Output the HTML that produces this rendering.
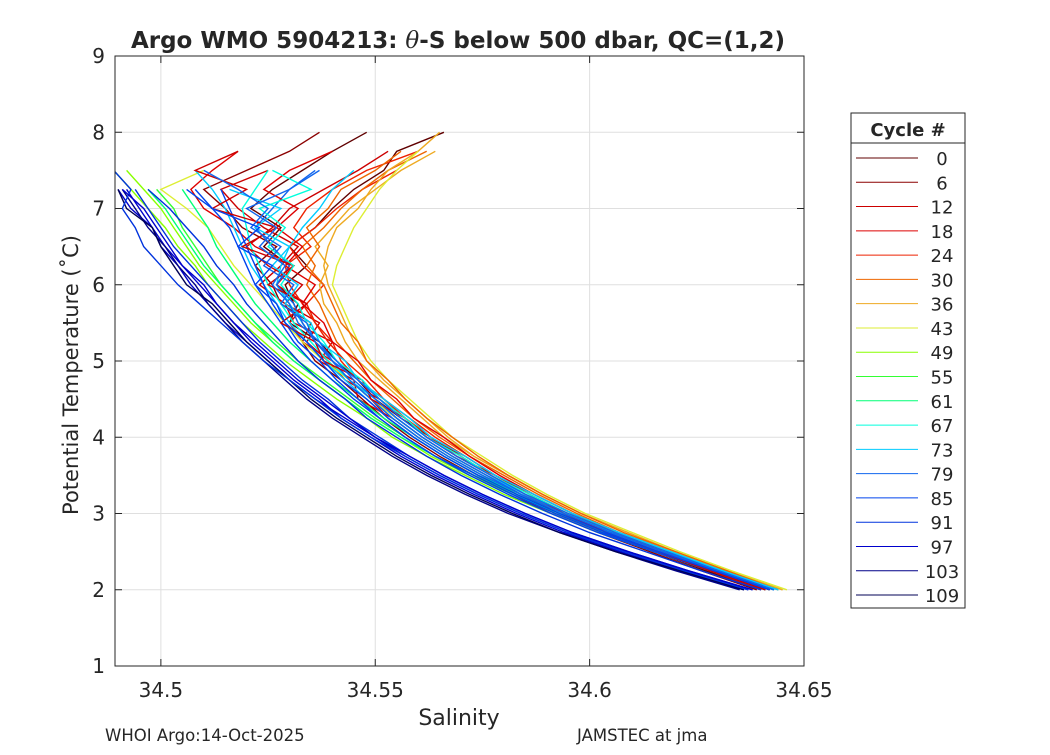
<!DOCTYPE html>
<html><head><meta charset="utf-8"><style>
body{margin:0;background:#fff;}
svg text{font-family:"DejaVu Sans","Liberation Sans",sans-serif;fill:#262626;}
</style></head><body>
<svg id="chart" width="1050" height="750" xmlns="http://www.w3.org/2000/svg">
<rect width="1050" height="750" fill="#fff"/>
<g id="grid"></g>
<g id="plot"></g>
<rect x="115" y="56" width="689" height="610" fill="none" stroke="#262626" stroke-width="1"/>
<g id="ticks"></g>
<text x="458" y="48" text-anchor="middle" font-size="23" font-weight="bold" fill="#000">Argo WMO 5904213: <tspan font-style="italic" font-weight="normal" font-family="DejaVu Serif,serif">θ</tspan>-S below 500 dbar,  QC=(1,2)</text>
<text x="459" y="725" text-anchor="middle" font-size="22">Salinity</text>
<text transform="translate(78,375) rotate(-90)" text-anchor="middle" font-size="21">Potential Temperature (˚C)</text>
<text x="105" y="741" font-size="16.5" fill="#000">WHOI Argo:14-Oct-2025</text>
<text x="577" y="741" font-size="16.5" fill="#000">JAMSTEC at jma</text>
<g id="legend">
<rect x="851" y="113" width="114" height="495" fill="#fff" stroke="#262626" stroke-width="1"/>
<line x1="851" y1="143" x2="965" y2="143" stroke="#262626"/>
<text x="908" y="136" text-anchor="middle" font-size="18" font-weight="bold" fill="#000">Cycle #</text>
</g>
</svg>
<script>
const legendCycles=[0,6,12,18,24,30,36,43,49,55,61,67,73,79,85,91,97,103,109];
const legendColors=["#600000","#8b0000","#cc0000","#dd0000","#ee2200","#ee6600","#eeaa22","#ddee33","#88ff00","#33ff33","#00ff77","#00ffdd","#00ccff","#1166ee","#0044ee","#0033dd","#0000cc","#000088","#000055"];
const xTicks=[34.5,34.55,34.6,34.65];
const xTickLabels=["34.5","34.55","34.6","34.65"];
const yTicks=[1,2,3,4,5,6,7,8,9];
const tLevels=[2,2.25,2.5,2.75,3,3.25,3.5,3.75,4,4.25,4.5,4.75,5,5.25,5.5,5.75,6,6.25,6.5,6.75,7,7.25,7.5,7.75,8];
const profCycles=[0,3,8,12,16,20,24,28,32,36,40,43,46,50,54,58,62,66,70,74,78,82,86,90,94,98,102,106,109,14,22,34,72,76,80,84,88,92,96,100];
const profSal=[
[34.640,34.627,34.615,34.603,34.593,34.584,34.576,34.568,34.561,34.555,34.549,34.544,34.540,34.536,34.533,34.531,34.529,34.534,34.530,34.536,34.540,34.545,34.552,34.555,34.566],
[34.641,34.629,34.617,34.605,34.594,34.585,34.577,34.570,34.563,34.556,34.550,34.546,34.541,34.537,34.530,34.532,34.527,34.530,34.524,34.528,34.521,34.526,34.533,34.540,34.548],
[34.639,34.626,34.614,34.602,34.591,34.582,34.573,34.565,34.558,34.552,34.547,34.542,34.536,34.533,34.535,34.528,34.526,34.522,34.527,34.519,34.515,34.510,34.520,34.530,34.537],
[34.640,34.628,34.616,34.604,34.593,34.583,34.575,34.567,34.560,34.554,34.546,34.545,34.537,34.540,34.531,34.529,34.533,34.525,34.520,34.526,34.530,34.538,34.546,34.553,null],
[34.642,34.630,34.618,34.606,34.595,34.586,34.578,34.569,34.562,34.557,34.551,34.543,34.539,34.534,34.537,34.529,34.523,34.528,34.532,34.524,34.518,34.514,34.525,null,null],
[34.641,34.628,34.615,34.603,34.592,34.583,34.574,34.566,34.559,34.553,34.549,34.544,34.540,34.533,34.530,34.534,34.527,34.531,34.522,34.517,34.510,34.507,34.512,34.518,null],
[34.643,34.631,34.619,34.607,34.596,34.587,34.578,34.571,34.564,34.558,34.552,34.548,34.543,34.539,34.536,34.534,34.538,34.533,34.530,34.536,34.541,34.547,34.555,null,null],
[34.642,34.629,34.617,34.605,34.594,34.585,34.577,34.569,34.563,34.557,34.552,34.546,34.542,34.540,34.536,34.533,34.530,34.529,34.535,34.531,34.534,34.540,34.548,34.560,null],
[34.644,34.631,34.619,34.607,34.597,34.588,34.580,34.572,34.565,34.559,34.554,34.549,34.545,34.541,34.539,34.537,34.534,34.536,34.533,34.538,34.542,34.547,34.553,34.562,null],
[34.645,34.632,34.620,34.609,34.598,34.589,34.581,34.573,34.566,34.561,34.556,34.551,34.546,34.543,34.541,34.538,34.537,34.539,34.536,34.540,34.544,34.550,34.556,34.564,null],
[34.645,34.632,34.620,34.609,34.598,34.589,34.581,34.573,34.567,34.562,34.557,34.552,34.548,34.545,34.543,34.541,34.539,34.538,34.539,34.541,34.546,34.549,34.553,34.560,34.565],
[34.646,34.633,34.621,34.610,34.599,34.590,34.582,34.575,34.568,34.563,34.558,34.553,34.549,34.546,34.544,34.542,34.540,34.541,34.543,34.545,34.548,34.551,34.555,34.560,null],
[34.644,34.631,34.619,34.606,34.595,34.585,34.576,34.568,34.561,34.555,34.549,34.544,34.538,34.533,34.529,34.525,34.521,34.517,34.514,34.511,34.506,34.500,34.510,null,null],
[34.642,34.629,34.616,34.603,34.592,34.582,34.572,34.563,34.556,34.549,34.543,34.537,34.531,34.526,34.521,34.517,34.513,34.509,34.506,34.503,34.500,34.496,34.492,null,null],
[34.641,34.628,34.615,34.602,34.591,34.580,34.571,34.562,34.554,34.548,34.541,34.535,34.529,34.524,34.519,34.515,34.511,34.508,34.504,34.501,34.497,34.493,34.489,null,null],
[34.642,34.629,34.616,34.604,34.593,34.583,34.573,34.564,34.557,34.550,34.544,34.538,34.532,34.527,34.522,34.518,34.514,34.511,34.508,34.505,34.503,34.499,null,null,null],
[34.643,34.630,34.617,34.604,34.593,34.582,34.573,34.564,34.556,34.549,34.543,34.537,34.531,34.526,34.522,34.518,34.514,34.510,34.507,34.504,34.501,34.497,null,null,null],
[34.643,34.630,34.618,34.605,34.594,34.584,34.574,34.566,34.559,34.552,34.546,34.540,34.535,34.530,34.526,34.522,34.519,34.516,34.513,34.511,34.508,34.505,null,null,null],
[34.644,34.631,34.618,34.605,34.594,34.584,34.575,34.567,34.560,34.554,34.549,34.544,34.539,34.535,34.531,34.528,34.525,34.523,34.521,34.520,34.519,34.522,34.525,null,null],
[34.644,34.631,34.618,34.606,34.595,34.585,34.576,34.568,34.561,34.555,34.550,34.544,34.540,34.536,34.533,34.530,34.527,34.528,34.530,34.533,34.537,34.540,34.545,null,null],
[34.643,34.630,34.617,34.604,34.593,34.583,34.574,34.566,34.559,34.553,34.548,34.543,34.538,34.534,34.530,34.527,34.524,34.521,34.519,34.517,34.515,34.512,34.508,null,null],
[34.643,34.630,34.618,34.605,34.594,34.584,34.575,34.567,34.560,34.554,34.549,34.544,34.540,34.536,34.533,34.531,34.527,34.530,34.526,34.522,34.526,34.530,34.536,null,null],
[34.642,34.629,34.616,34.603,34.592,34.582,34.573,34.564,34.557,34.551,34.545,34.540,34.535,34.531,34.528,34.525,34.522,34.520,34.518,34.516,34.512,34.508,null,null,null],
[34.641,34.628,34.615,34.602,34.591,34.581,34.572,34.564,34.557,34.551,34.546,34.541,34.537,34.532,34.529,34.526,34.524,34.522,34.520,34.518,34.516,34.514,null,null,null],
[34.638,34.623,34.609,34.596,34.585,34.575,34.566,34.558,34.551,34.544,34.539,34.533,34.528,34.523,34.519,34.515,34.511,34.507,34.503,34.500,34.497,34.494,null,null,null],
[34.636,34.621,34.607,34.594,34.583,34.573,34.564,34.556,34.549,34.542,34.537,34.531,34.526,34.521,34.517,34.513,34.509,34.505,34.501,34.498,34.495,34.492,null,null,null],
[34.637,34.622,34.608,34.595,34.584,34.574,34.565,34.557,34.550,34.543,34.536,34.530,34.525,34.520,34.515,34.511,34.507,34.504,34.500,34.498,34.493,34.490,null,null,null],
[34.635,34.620,34.606,34.593,34.581,34.571,34.562,34.554,34.547,34.540,34.534,34.529,34.524,34.519,34.515,34.511,34.508,34.504,34.501,34.497,34.494,34.491,null,null,null],
[34.636,34.621,34.606,34.593,34.582,34.572,34.563,34.555,34.548,34.541,34.535,34.530,34.525,34.520,34.516,34.512,34.506,34.503,34.500,34.498,34.492,34.490,null,null,null],
[34.641,34.628,34.616,34.604,34.594,34.586,34.578,34.571,34.562,34.557,34.549,34.547,34.538,34.536,34.528,34.534,34.525,34.531,34.519,34.527,34.512,34.520,34.508,34.518,null],
[34.642,34.630,34.617,34.606,34.596,34.587,34.579,34.572,34.566,34.559,34.555,34.549,34.546,34.540,34.538,34.533,34.536,34.529,34.533,34.527,34.532,34.524,34.530,34.540,null],
[34.644,34.632,34.620,34.608,34.598,34.589,34.581,34.574,34.568,34.562,34.557,34.553,34.548,34.546,34.542,34.540,34.538,34.534,34.537,34.534,34.539,34.542,34.550,34.556,null],
[34.643,34.630,34.618,34.606,34.595,34.586,34.577,34.570,34.562,34.557,34.551,34.547,34.541,34.538,34.534,34.532,34.528,34.531,34.525,34.529,34.523,34.535,34.526,null,null],
[34.644,34.631,34.619,34.607,34.596,34.587,34.578,34.571,34.563,34.558,34.552,34.546,34.543,34.537,34.535,34.529,34.532,34.526,34.530,34.522,34.528,34.516,null,null,null],
[34.643,34.630,34.618,34.606,34.595,34.585,34.577,34.569,34.562,34.556,34.551,34.546,34.540,34.537,34.532,34.530,34.526,34.529,34.523,34.527,34.520,34.530,34.537,null,null],
[34.643,34.630,34.617,34.605,34.594,34.584,34.576,34.568,34.561,34.555,34.550,34.545,34.541,34.536,34.534,34.528,34.531,34.524,34.528,34.521,34.525,34.518,34.510,null,null],
[34.642,34.629,34.616,34.604,34.593,34.583,34.574,34.566,34.559,34.553,34.548,34.542,34.538,34.534,34.529,34.527,34.522,34.526,34.518,34.523,34.512,34.506,null,null,null],
[34.640,34.626,34.613,34.600,34.589,34.579,34.570,34.562,34.555,34.548,34.543,34.537,34.532,34.528,34.524,34.520,34.517,34.513,34.510,34.506,34.502,34.497,null,null,null],
[34.637,34.622,34.608,34.595,34.584,34.574,34.565,34.557,34.549,34.542,34.536,34.530,34.524,34.519,34.514,34.509,34.504,34.500,34.496,34.494,34.491,34.493,34.489,null,null],
[34.638,34.623,34.609,34.596,34.585,34.575,34.566,34.558,34.550,34.544,34.538,34.532,34.527,34.522,34.517,34.513,34.510,34.505,34.502,34.499,34.496,34.491,null,null,null]
];
const X0=115,X1=804,Y0=56,Y1=666,SMIN=34.4893,SMAX=34.65,TMIN=1,TMAX=9;
const xs=s=>X0+(s-SMIN)/(SMAX-SMIN)*(X1-X0);
const ys=t=>Y1-(t-TMIN)/(TMAX-TMIN)*(Y1-Y0);
const NS="http://www.w3.org/2000/svg";
function mk(tag,attrs,parent){const e=document.createElementNS(NS,tag);for(const k in attrs)e.setAttribute(k,attrs[k]);parent.appendChild(e);return e;}
const grid=document.getElementById('grid'),ticks=document.getElementById('ticks'),plot=document.getElementById('plot'),legend=document.getElementById('legend');
xTicks.forEach((v,i)=>{const x=xs(v);
 const g=mk('line',{x1:x,x2:x,y1:Y0,y2:Y1,stroke:'#dfdfdf'},grid);
 
 
 mk('line',{x1:x,x2:x,y1:Y1,y2:Y1-7,stroke:'#262626'},ticks);
 mk('line',{x1:x,x2:x,y1:Y0,y2:Y0+7,stroke:'#262626'},ticks);
 const t=mk('text',{x:x,y:Y1+31,'text-anchor':'middle','font-size':'20'},ticks);t.textContent=xTickLabels[i];
 
 
});
yTicks.forEach(v=>{const y=ys(v);
 const g=mk('line',{x1:X0,x2:X1,y1:y,y2:y,stroke:'#dfdfdf'},grid);
 
 
 mk('line',{x1:X0,x2:X0+7,y1:y,y2:y,stroke:'#262626'},ticks);
 mk('line',{x1:X1,x2:X1-7,y1:y,y2:y,stroke:'#262626'},ticks);
 const t=mk('text',{x:X0-10,y:y+7,'text-anchor':'end','font-size':'20'},ticks);t.textContent=String(v);
 
 
});
const clip=mk('clipPath',{id:'pc'},document.getElementById('chart'));mk('rect',{x:X0,y:Y0,width:X1-X0,height:Y1-Y0},clip);
plot.setAttribute('clip-path','url(#pc)');
function colorFor(c){let k=0;for(let i=0;i<legendCycles.length;i++)if(legendCycles[i]<=c)k=i;return legendColors[k];}
profSal.forEach((arr,p)=>{const pts=[];arr.forEach((s,i)=>{if(s!==null)pts.push(xs(s).toFixed(1)+','+ys(tLevels[i]).toFixed(1));});
 const pl=mk('polyline',{points:pts.join(' '),fill:'none',stroke:colorFor(profCycles[p]),'stroke-width':'1.4'},plot);
 
 
});
legendCycles.forEach((c,i)=>{const y=158+i*24.28;
 const l=mk('line',{x1:856,x2:918,y1:y,y2:y,stroke:legendColors[i],'stroke-width':'1'},legend);
 
 
 const t=mk('text',{x:942,y:y+7,'text-anchor':'middle','font-size':'18',fill:'#000'},legend);t.textContent=String(c);
 
 
});
</script>
</body></html>
